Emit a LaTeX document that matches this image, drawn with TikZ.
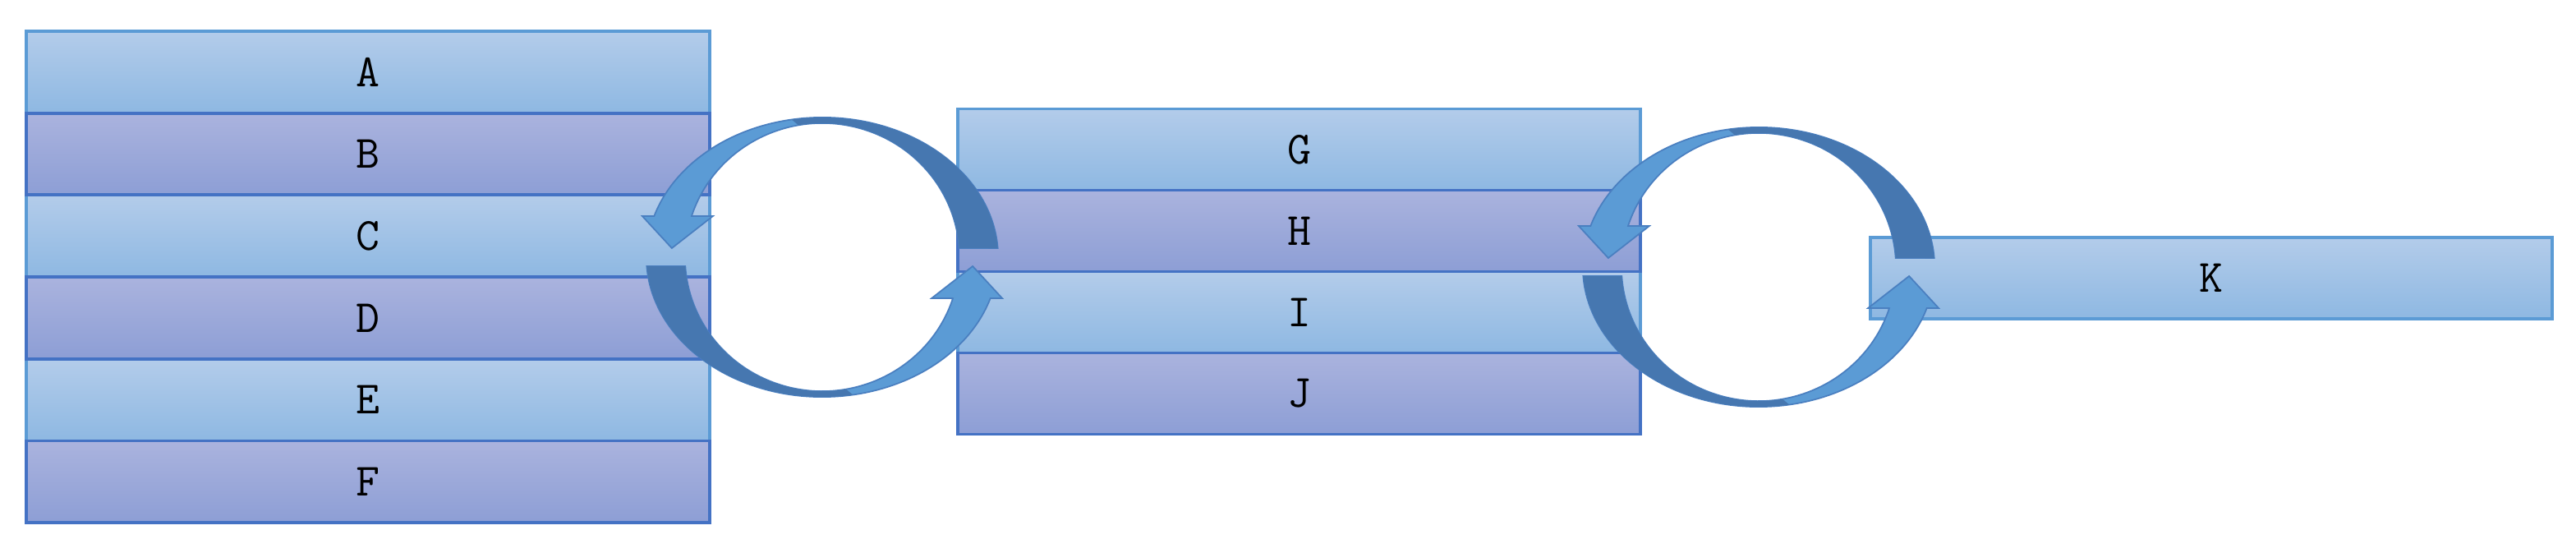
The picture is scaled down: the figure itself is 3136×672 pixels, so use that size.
\documentclass[tikz,border=0pt]{standalone}
\usepackage{fontspec}
\definecolor{lightTop}{HTML}{B3CCEA}
\definecolor{lightBot}{HTML}{8EB8E2}
\definecolor{darkTop}{HTML}{AAB3DE}
\definecolor{darkBot}{HTML}{8D9ED5}
\definecolor{lightEdge}{HTML}{5B9BD5}
\definecolor{darkEdge}{HTML}{4472C4}
\definecolor{arrLight}{HTML}{5B9BD5}
\definecolor{arrDark}{HTML}{4677B0}
\definecolor{arrEdge}{HTML}{4A7FC0}
\begin{document}
\begin{tikzpicture}[x=0.01cm,y=0.01cm,
  rowbase/.style={rectangle, inner sep=0pt, outer sep=0pt, line width=1.1pt,
    font=\ttfamily\fontsize{16pt}{16pt}\selectfont, text=black},
  lightrow/.style={rowbase, draw=lightEdge, top color=lightTop, bottom color=lightBot},
  darkrow/.style={rowbase, draw=darkEdge, top color=darkTop, bottom color=darkBot},
  leftrow/.style={minimum width=8.32cm, minimum height=0.997cm},
  midrow/.style={minimum width=8.31cm, minimum height=0.99cm},
  krow/.style={minimum width=8.30cm, minimum height=0.99cm},
  arrowlight/.style={fill=arrLight, draw=arrEdge, line width=0.5pt, line join=miter},
  arrowdark/.style={fill=arrDark, draw=none}
]
\useasboundingbox (0,0) rectangle (3136,672);

% ---- left stack: light rows first, dark rows on top
\node[lightrow,leftrow] (A) at (448,584.15) {A\hspace{0.14cm}};
\node[lightrow,leftrow] (C) at (448,384.75) {C\hspace{0.14cm}};
\node[lightrow,leftrow] (E) at (448,185.35) {E\hspace{0.14cm}};
\node[darkrow,leftrow]  (B) at (448,484.45) {B\hspace{0.14cm}};
\node[darkrow,leftrow]  (D) at (448,285.05) {D\hspace{0.14cm}};
\node[darkrow,leftrow]  (F) at (448,85.65)  {F\hspace{0.14cm}};

% ---- middle stack
\node[lightrow,midrow] (G) at (1581.5,490) {G\hspace{0.14cm}};
\node[lightrow,midrow] (I) at (1581.5,292) {I\hspace{0.14cm}};
\node[darkrow,midrow]  (H) at (1581.5,391) {H\hspace{0.14cm}};
\node[darkrow,midrow]  (J) at (1581.5,193) {J\hspace{0.14cm}};

% ---- right box
\node[lightrow,krow] (K) at (2692,333.5) {K\hspace{0.14cm}};

% ---- circular arrow pairs
\coordinate (cyc1) at (1001,359);
\coordinate (cyc2) at (2141,347);
\foreach \c in {cyc1,cyc2}{
  \foreach \r in {0,180}{
    \begin{scope}[shift={(\c)}, rotate=\r]
      \path[arrowlight]
        (3.7:2.14cm and 1.70cm)
        arc[start angle=3.7, end angle=162.9, x radius=2.14cm, y radius=1.70cm]
        -- (-2.19cm,0.50cm) -- (-1.83cm,0.11cm) -- (-1.33cm,0.50cm)
        -- (162.1:1.67cm and 1.63cm)
        arc[start angle=162.1, end angle=3.9, x radius=1.67cm, y radius=1.63cm]
        -- cycle;
      \path[arrowdark]
        (3.7:2.14cm and 1.70cm)
        arc[start angle=3.7, end angle=100, x radius=2.14cm, y radius=1.70cm]
        -- (100:1.67cm and 1.63cm)
        arc[start angle=100, end angle=3.9, x radius=1.67cm, y radius=1.63cm]
        -- cycle;
    \end{scope}
  }
}
\end{tikzpicture}
\end{document}
